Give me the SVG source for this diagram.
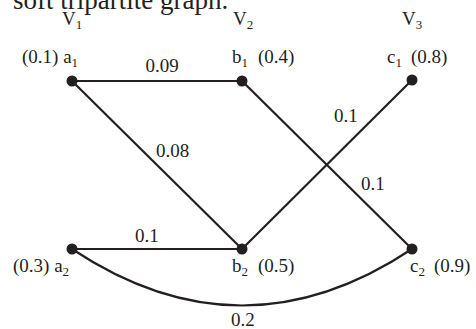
<svg xmlns="http://www.w3.org/2000/svg" width="476" height="329" viewBox="0 0 476 329">
<style>
text{font-family:"Liberation Serif","Times New Roman",serif;font-size:19px;fill:#231f20}
.sub{font-size:13px}
.title{font-size:27px}
.e{stroke:#231f20;stroke-width:2.2;fill:none}
.n{fill:#231f20}
</style>
<rect width="476" height="329" fill="#fff"/>
<text class="title" x="13" y="9">soft tripartite graph.</text>
<g id="headers">
<text x="62" y="25">V<tspan class="sub" dy="4">1</tspan></text>
<text x="233" y="25">V<tspan class="sub" dy="4">2</tspan></text>
<text x="402" y="25">V<tspan class="sub" dy="4">3</tspan></text>
</g>
<g id="connectors">
<line class="e" x1="72" y1="81" x2="242" y2="81"/>
<line class="e" x1="72" y1="81" x2="242" y2="249"/>
<line class="e" x1="242" y1="81" x2="412" y2="249"/>
<line class="e" x1="412" y1="80" x2="242" y2="249"/>
<line class="e" x1="72" y1="249" x2="242" y2="249"/>
<path class="e" d="M72 249 Q242 362 412 249"/>
<text x="162" y="72" text-anchor="middle">0.09</text>
<text x="156" y="157">0.08</text>
<text x="334" y="122">0.1</text>
<text x="361" y="190">0.1</text>
<text x="135" y="242">0.1</text>
<text x="231" y="326">0.2</text>
</g>
<g id="a1"><circle class="n" cx="72" cy="81" r="5.5"/><text x="22" y="63">(0.1) a<tspan class="sub" dy="4">1</tspan></text></g>
<g id="b1"><circle class="n" cx="242" cy="81" r="5.5"/><text x="232" y="63">b<tspan class="sub" dy="4">1</tspan><tspan x="258" dy="-4">(0.4)</tspan></text></g>
<g id="c1"><circle class="n" cx="412" cy="80" r="5.5"/><text x="387" y="63">c<tspan class="sub" dy="4">1</tspan><tspan x="411" dy="-4">(0.8)</tspan></text></g>
<g id="a2"><circle class="n" cx="72" cy="249" r="5.5"/><text x="13" y="272">(0.3) a<tspan class="sub" dy="4">2</tspan></text></g>
<g id="b2"><circle class="n" cx="242" cy="249" r="5.5"/><text x="232" y="272">b<tspan class="sub" dy="4">2</tspan><tspan x="258" dy="-4">(0.5)</tspan></text></g>
<g id="c2"><circle class="n" cx="412" cy="249" r="5.5"/><text x="410" y="272">c<tspan class="sub" dy="4">2</tspan><tspan x="434" dy="-4">(0.9)</tspan></text></g>
</svg>
